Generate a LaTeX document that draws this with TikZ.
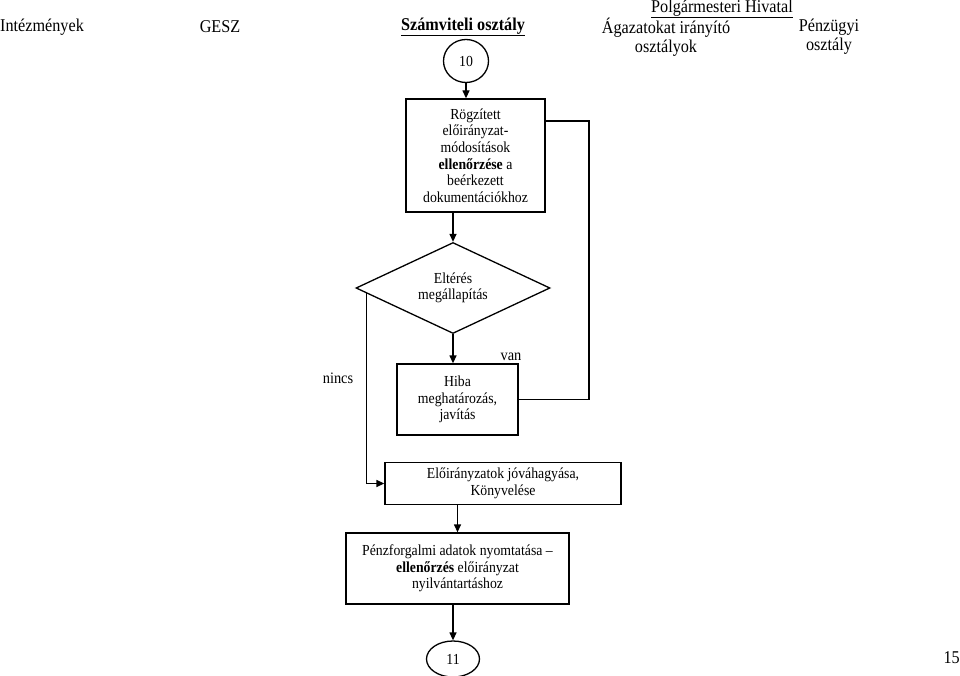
\documentclass[tikz,border=0pt]{standalone}
\usepackage{fontspec}
\setmainfont[FakeStretch=0.9]{Liberation Serif}
\usetikzlibrary{arrows.meta,calc,positioning,shapes.geometric}
\definecolor{Ink}{HTML}{000000}

\begin{document}
\begin{tikzpicture}[x=1pt,y=-1pt,
    box/.style={draw=Ink,line width=1.3pt,align=center,inner sep=0pt,
      font=\fontsize{15.3}{16.6}\selectfont},
    head/.style={font=\fontsize{18}{19}\selectfont,text=Ink,align=center},
    conn/.style={draw=Ink,line width=1.3pt},
    arr/.style={conn,-{Triangle[length=8pt,width=7pt]}}]
        \useasboundingbox (0,0) rectangle (960,676);
        % fejlec
        \node[head,anchor=west,inner xsep=0pt] (inst) at (0,27) {Intézmények};
        \node[head] (gesz) at (220,27) {GESZ};
        \node[head,font=\fontsize{18}{19}\selectfont\bfseries] (szamv) at (463,27) {\underline{Számviteli osztály}};
        \node[head] (polg) at (722,9) {\underline{Polgármesteri Hivatal}};
        \node[head] (agaz) at (666,37) {Ágazatokat irányító\\osztályok};
        \node[head] (penz) at (829,37) {Pénzügyi\\osztály};
        % folyamat
        \node[box,ellipse,minimum width=45,minimum height=43] (c10) at (466,61) {10};
        \node[box,minimum width=139,minimum height=113] (rogz) at (475.5,155.5)
          {Rögzített\\előirányzat-\\módosítások\\\textbf{ellenőrzése} a\\beérkezett\\dokumentációkhoz};
        \node[box,diamond,aspect=2.13,minimum width=194,minimum height=91] (elt) at (453,288)
          {Eltérés\\megállapítás};
        \node[box,minimum width=121,minimum height=71] (hiba) at (457.5,399.5)
          {Hiba\\meghatározás,\\javítás};
        \node[box,minimum width=236,minimum height=42] (jova) at (503,483.5)
          {Előirányzatok jóváhagyása,\\Könyvelése};
        \node[box,minimum width=223,minimum height=71] (penzf) at (457.5,568.5)
          {Pénzforgalmi adatok nyomtatása --\\\textbf{ellenőrzés} előirányzat\\nyilvántartáshoz};
        \node[box,ellipse,minimum width=53,minimum height=36] (c11) at (453,659) {11};
        \node[head,anchor=east,inner xsep=0pt] (oldal) at (960,658) {15};
        \node[font=\fontsize{16}{16}\selectfont] (van) at (511,357) {van};
        \node[font=\fontsize{16}{16}\selectfont] (nincs) at (338,378) {nincs};
        % nyilak
        \draw[arr] (c10.south) -- (c10.south |- rogz.north);
        \draw[arr] (rogz.south -| elt.north) -- (elt.north);
        \draw[arr] (elt.south) -- (elt.south |- hiba.north);
        \coordinate (vissza) at (589,121);
        \draw[conn] (hiba.east) -| (vissza) -- (vissza -| rogz.east);
        \coordinate (nincsp) at ($(elt.west)!0.113!(elt.south)$);
        \draw[arr] (nincsp) |- (jova.west);
        \draw[arr] (jova.south -| penzf.north) -- (penzf.north);
        \draw[arr] (penzf.south -| c11.north) -- (c11.north);
      \end{tikzpicture}
\end{document}
